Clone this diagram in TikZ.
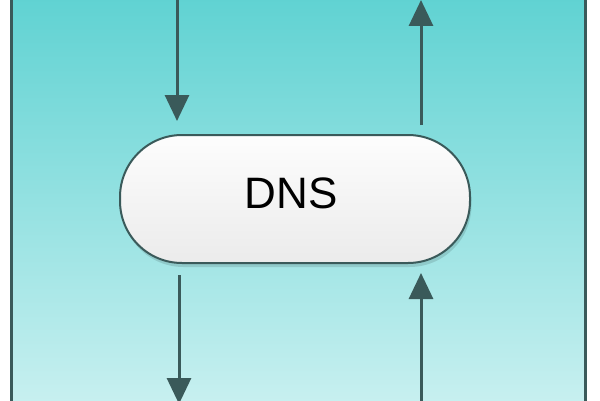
\documentclass[tikz,border=0pt]{standalone}
\usepackage{fontspec}
\setmainfont{Liberation Sans}
\usetikzlibrary{arrows.meta}
\definecolor{bgtop}{HTML}{5FD2D2}
\definecolor{bgbot}{HTML}{C8F0F0}
\definecolor{ink}{HTML}{3A5A5A}
\definecolor{boxtop}{HTML}{FDFDFD}
\definecolor{boxbot}{HTML}{EBEBEB}
\tikzset{
  conn/.style={draw=ink, line width=3pt, -{Triangle[width=24pt,length=26pt]}},
  framel/.style={draw=ink, line width=3pt},
  stadium/.style={draw=ink, line width=2pt, rounded corners=62pt,
    top color=boxtop, bottom color=boxbot, minimum width=350pt,
    minimum height=128pt, inner sep=0pt},
  lbl/.style={font=\fontsize{44}{50}\selectfont, text=black, inner sep=0pt}
}
\begin{document}
\begin{tikzpicture}[x=1pt,y=1pt]
\useasboundingbox (0,0) rectangle (600,400);
\clip (0,0) rectangle (600,400);
\fill[white] (0,0) rectangle (600,400);
\shade[top color=bgtop, bottom color=bgbot] (11.5,-5) rectangle (585,405);
\coordinate (fl1) at (11.5,-5);
\coordinate (fl2) at (11.5,405);
\coordinate (fr1) at (585,-5);
\coordinate (fr2) at (585,405);
\draw[framel] (fl1) -- (fl2);
\draw[framel] (fr1) -- (fr2);
% shadow
\fill[black, opacity=0.12, rounded corners=62pt] (121.5,133) rectangle (471.5,261);
\node[stadium] (dns) at (295,201) {};
\node[lbl] (dnslabel) at (291,207) {DNS};
% connectors
\coordinate (inTop) at (177,410);
\coordinate (inTopEnd) at (177,279);
\coordinate (outTop) at (421,275);
\coordinate (outTopEnd) at (421,400);
\coordinate (inBot) at (179,125);
\coordinate (inBotEnd) at (179,-4);
\coordinate (outBot) at (421,-10);
\coordinate (outBotEnd) at (421,127);
\draw[conn] (inTop) -- (inTopEnd);
\draw[conn] (outTop) -- (outTopEnd);
\draw[conn] (inBot) -- (inBotEnd);
\draw[conn] (outBot) -- (outBotEnd);
\end{tikzpicture}
\end{document}
